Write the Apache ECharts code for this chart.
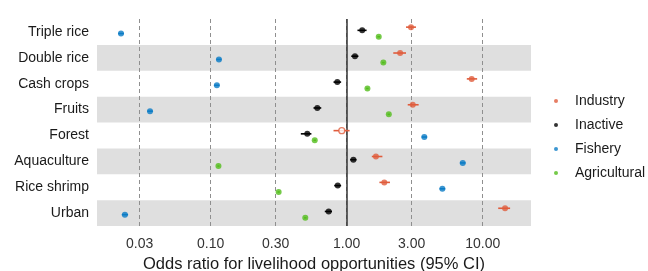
<!DOCTYPE html>
<html><head><meta charset="utf-8">
<script src="https://cdn.jsdelivr.net/npm/echarts@6/dist/echarts.min.js"></script>
<style>html,body{margin:0;padding:0;background:#fff}#c{width:648px;height:271px}</style>
</head><body><div id="c"></div>
<script>
const categories = ['Triple rice','Double rice','Cash crops','Fruits','Forest','Aquaculture','Rice shrimp','Urban'];
const groups = ['Industry','Inactive','Fishery','Agricultural'];
const tickValues = [0.03, 0.1, 0.3, 1, 3, 10];

const industry   = [2.97, 2.47, 8.30, 3.06, 0.92, 1.64, 1.89, 14.6];
const industryLo = [2.73, 2.20, 7.64, 2.81, 0.80, 1.53, 1.74, 13.0];
const industryHi = [3.23, 2.73, 9.10, 3.38, 1.05, 1.83, 2.08, 15.9];
const industrySignificant = [1, 1, 1, 1, 0, 1, 1, 1];

const inactive   = [1.30, 1.15, 0.853, 0.608, 0.513, 1.12, 0.859, 0.737];
const inactiveLo = [1.20, 1.08, 0.80, 0.57, 0.46, 1.06, 0.81, 0.69];
const inactiveHi = [1.40, 1.22, 0.91, 0.65, 0.55, 1.18, 0.91, 0.78];

const fishery   = [0.0219, 0.115, 0.111, 0.0358, 3.72, 7.13, 5.05, 0.0234];
const fisheryLo = [0.0209, 0.110, 0.106, 0.0342, 3.56, 6.80, 4.82, 0.0222];
const fisheryHi = [0.0230, 0.120, 0.116, 0.0375, 3.90, 7.47, 5.30, 0.0247];

const agricultural   = [1.72, 1.86, 1.42, 2.04, 0.582, 0.114, 0.316, 0.496];
const agriculturalLo = [1.68, 1.82, 1.39, 2.00, 0.570, 0.112, 0.310, 0.486];
const agriculturalHi = [1.76, 1.90, 1.45, 2.08, 0.594, 0.116, 0.322, 0.506];

const colors = {Industry:'#e05c3c', Inactive:'#000000', Fishery:'#0b7cc6', Agricultural:'#52bd1c'};
const offsets = {Industry:-4.8, Inactive:-1.6, Fishery:1.6, Agricultural:4.8};

const FONT = '"Liberation Sans", Arial, sans-serif';

function errorSeries(name, vals, lo, hi) {
  const color = colors[name], dy = offsets[name];
  return {
    type: 'custom', name: name + ' CI', z: 2, silent: true,
    encode: {x: [0, 1, 2], y: 3},
    data: vals.map((v, i) => [v, lo[i], hi[i], i]),
    renderItem: function (params, api) {
      const y = api.value(3);
      const a = api.coord([api.value(1), y]);
      const b = api.coord([api.value(2), y]);
      return {type: 'line', shape: {x1: a[0], y1: a[1] + dy, x2: b[0], y2: b[1] + dy},
              style: {stroke: color, lineWidth: 1.6}};
    }
  };
}
function pointSeries(name, vals, sig) {
  const color = colors[name];
  return {
    type: 'scatter', name: name, z: 3, symbol: 'circle', symbolSize: 6,
    symbolOffset: [0, offsets[name]],
    itemStyle: {color: color},
    data: vals.map((v, i) => {
      const item = {value: [v, i]};
      if (sig && !sig[i]) item.itemStyle = {color: '#ffffff', borderColor: color, borderWidth: 1.3};
      return item;
    })
  };
}

const series = [
  errorSeries('Industry', industry, industryLo, industryHi),
  errorSeries('Inactive', inactive, inactiveLo, inactiveHi),
  errorSeries('Fishery', fishery, fisheryLo, fisheryHi),
  errorSeries('Agricultural', agricultural, agriculturalLo, agriculturalHi),
  pointSeries('Industry', industry, industrySignificant),
  pointSeries('Inactive', inactive),
  pointSeries('Fishery', fishery),
  pointSeries('Agricultural', agricultural)
];
series[5].markLine = {
  silent: true, symbol: ['none', 'none'], z: 1,
  label: {show: false},
  lineStyle: {color: '#333333', type: 'solid', width: 1.5},
  data: [{xAxis: 1}]
};

const chart = echarts.init(document.getElementById('c'), null, {renderer: 'canvas'});
chart.setOption({
  animation: false,
  backgroundColor: '#ffffff',
  textStyle: {fontFamily: FONT},
  grid: {left: 97, right: 117, top: 19, bottom: 45, containLabel: false, outerBoundsMode: 'none'},
  legend: {
    data: groups, orient: 'vertical', left: 554, top: 93, padding: 0,
    icon: 'circle', itemWidth: 4, itemHeight: 4, itemGap: 8,
    textStyle: {fontFamily: FONT, fontSize: 14, color: '#1a1a1a', lineHeight: 16, padding: [0, 0, 0, 12]}
  },
  xAxis: {
    type: 'log', logBase: 10, min: 0.01459, max: 22.65,
    name: 'Odds ratio for livelihood opportunities (95% CI)',
    nameLocation: 'middle', nameGap: 28,
    nameTextStyle: {fontFamily: FONT, fontSize: 16.5, color: '#1a1a1a'},
    axisLine: {show: false},
    axisTick: {show: false, customValues: tickValues},
    axisLabel: {customValues: tickValues, formatter: v => Number(v).toFixed(2),
                fontFamily: FONT, fontSize: 14, color: '#333333', margin: 11},
    splitLine: {show: true, lineStyle: {color: '#8f8f8f', type: [4, 3], width: 1}}
  },
  yAxis: {
    type: 'category', inverse: true, data: categories,
    axisLine: {show: false}, axisTick: {show: false},
    axisLabel: {fontFamily: FONT, fontSize: 14, color: '#1a1a1a', margin: 8},
    splitLine: {show: false},
    splitArea: {show: true, areaStyle: {color: ['rgba(255,255,255,0)', '#dfdfdf']}}
  },
  series: series
});
</script></body></html>
